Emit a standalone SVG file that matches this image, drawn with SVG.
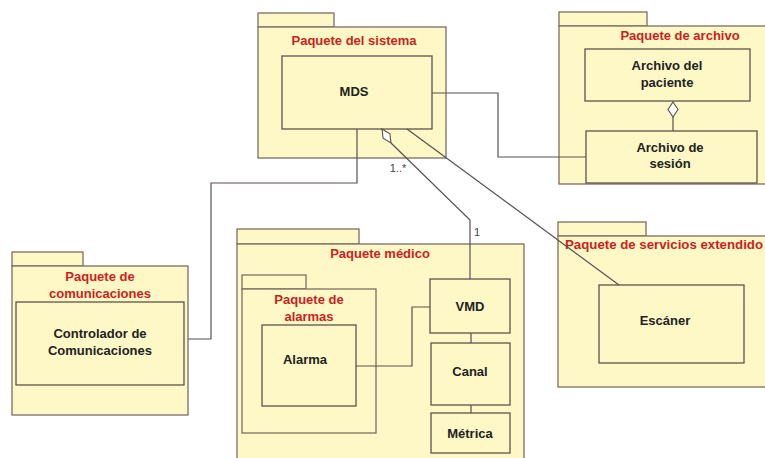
<svg xmlns="http://www.w3.org/2000/svg" width="765" height="458" viewBox="0 0 765 458">
<style>
.pk{fill:#fdf8c6;stroke:#7d6e66;stroke-width:1.3}
.bx{fill:#fdf8c6;stroke:#5e534d;stroke-width:1.3}
.pl{font-family:"Liberation Sans",Arial,sans-serif;font-weight:bold;font-size:13px;fill:#cc1f1f;text-anchor:middle}
.nl{font-family:"Liberation Sans",Arial,sans-serif;font-weight:bold;font-size:13px;fill:#222;text-anchor:middle}
.ml{font-family:"Liberation Sans",Arial,sans-serif;font-size:11px;fill:#444;text-anchor:middle}
.cn{fill:none;stroke:#5a5050;stroke-width:1.2}
</style>
<rect width="765" height="458" fill="#ffffff"/>
<g id="pkg-sistema">
<rect class="pk" x="258" y="13" width="76" height="14"/>
<rect class="pk" x="258" y="27" width="188" height="131"/>
<text class="pl" x="354" y="45">Paquete del sistema</text>
</g>
<g id="mds">
<rect class="bx" x="282" y="56" width="150" height="73"/>
<text class="nl" x="354" y="96">MDS</text>
</g>
<g id="pkg-archivo">
<rect class="pk" x="559" y="12" width="88" height="14"/>
<rect class="pk" x="559" y="26" width="210" height="158"/>
<text class="pl" x="680" y="40">Paquete de archivo</text>
</g>
<g id="archivo-paciente">
<rect class="bx" x="585" y="49" width="165" height="52"/>
<text class="nl" x="667" y="70">Archivo del</text>
<text class="nl" x="667" y="87">paciente</text>
</g>
<g id="archivo-sesion">
<rect class="bx" x="586" y="131" width="171" height="52"/>
<text class="nl" x="670" y="152">Archivo de</text>
<text class="nl" x="670" y="168">sesión</text>
</g>
<g id="pkg-comunicaciones">
<rect class="pk" x="12" y="252" width="71" height="14"/>
<rect class="pk" x="12" y="266" width="176" height="149"/>
<text class="pl" x="100" y="281">Paquete de</text>
<text class="pl" x="100" y="298">comunicaciones</text>
</g>
<g id="controlador">
<rect class="bx" x="16" y="302" width="168" height="83"/>
<text class="nl" x="100" y="338">Controlador de</text>
<text class="nl" x="100" y="355">Comunicaciones</text>
</g>
<g id="pkg-medico">
<rect class="pk" x="237" y="229" width="122" height="15"/>
<rect class="pk" x="237" y="244" width="287" height="220"/>
<text class="pl" x="380" y="258">Paquete médico</text>
</g>
<g id="pkg-alarmas">
<rect class="pk" x="242" y="275" width="64" height="14"/>
<rect class="pk" x="242" y="289" width="134" height="144"/>
<text class="pl" x="309" y="304">Paquete de</text>
<text class="pl" x="309" y="321">alarmas</text>
</g>
<g id="alarma">
<rect class="bx" x="262" y="325" width="94" height="81"/>
<text class="nl" x="305" y="364">Alarma</text>
</g>
<g id="vmd">
<rect class="bx" x="430" y="279" width="80" height="54"/>
<text class="nl" x="470" y="311">VMD</text>
</g>
<g id="canal">
<rect class="bx" x="431" y="343" width="79" height="62"/>
<text class="nl" x="470" y="376">Canal</text>
</g>
<g id="metrica">
<rect class="bx" x="431" y="413" width="79" height="40"/>
<text class="nl" x="470" y="438">Métrica</text>
</g>
<g id="pkg-servicios">
<rect class="pk" x="558" y="222" width="88" height="14"/>
<rect class="pk" x="558" y="236" width="211" height="151"/>
<text class="pl" x="664" y="249" textLength="198" lengthAdjust="spacingAndGlyphs">Paquete de servicios extendido</text>
</g>
<g id="escaner">
<rect class="bx" x="599" y="285" width="145" height="78"/>
<text class="nl" x="665" y="325">Escáner</text>
</g>
<g id="connectors">
<polyline class="cn" points="432,93 498,93 498,157 586,157"/>
<polyline class="cn" points="357,129 357,183 211,183 211,339 188,339"/>
<line class="cn" x1="407" y1="129" x2="619" y2="285"/>
<polyline class="cn" points="391,143 470,220 470,279"/>
<polygon points="382,129 389.9,133.8 391,143 383.1,138.2" fill="#ffffff" stroke="#5a5050" stroke-width="1.1"/>
<line class="cn" x1="673" y1="117" x2="673" y2="131"/>
<polygon points="673,102 678,109.5 673,117 668,109.5" fill="#ffffff" stroke="#5a5050" stroke-width="1.1"/>
<polyline class="cn" points="356,366 412,366 412,307 430,307"/>
<line class="cn" x1="471" y1="333" x2="471" y2="343"/>
<line class="cn" x1="471" y1="405" x2="471" y2="413"/>
<text class="ml" x="398" y="172">1..*</text>
<text class="ml" x="477" y="236">1</text>
</g>
</svg>
